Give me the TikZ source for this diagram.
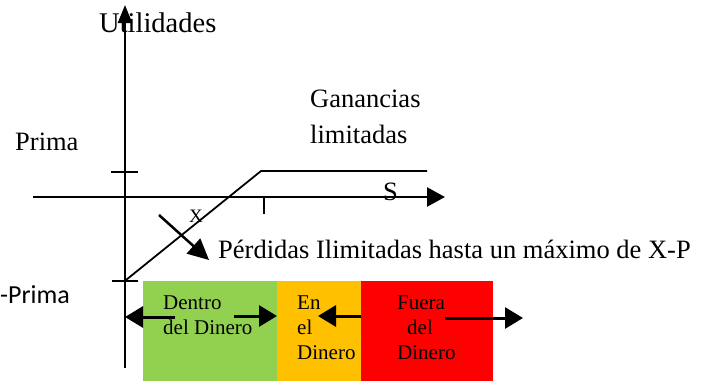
\documentclass[tikz,border=0pt]{standalone}
\usepackage{fontspec}
\setmainfont{Liberation Serif}
\newfontfamily\calibfont{Carlito}
\usetikzlibrary{arrows.meta}
\definecolor{dgreen}{HTML}{92D050}
\definecolor{dorange}{HTML}{FFC000}
\definecolor{dred}{HTML}{FF0000}
\tikzset{
  zone/.style={draw=none, inner sep=0pt, minimum height=100pt, anchor=north west},
  bigtxt/.style={inner sep=0pt, anchor=base west, font=\fontsize{26.5}{30}\selectfont},
  boxtxt/.style={inner sep=0pt, anchor=base west, font=\fontsize{21}{25}\selectfont},
  axis/.style={line width=2.5pt},
  thin/.style={line width=1.8pt},
  harrow/.style={line width=3pt, -{Triangle[length=18pt,width=21pt]}},
}
\begin{document}
\begin{tikzpicture}[x=1pt,y=-1pt]
\useasboundingbox (0,0) rectangle (705,381);
% zones
\node[zone, fill=dgreen, minimum width=135pt] (green) at (143,281) {};
\node[zone, fill=dorange, minimum width=84pt] (orange) at (277,281) {};
\node[zone, fill=dred, minimum width=132pt] (red) at (361,281) {};
% axes
\coordinate (vbot) at (125,368);
\coordinate (vtop) at (125,5);
\coordinate (hleft) at (33,197);
\coordinate (hright) at (445,197);
\draw[axis, -{Triangle[length=18pt,width=14pt]}] (vbot) -- (vtop);
\draw[axis, -{Triangle[length=18pt,width=19pt]}] (hleft) -- (hright);
% ticks
\coordinate (tp1) at (111,172); \coordinate (tp2) at (138,172);
\coordinate (tm1) at (112,281); \coordinate (tm2) at (138,281);
\coordinate (tx1) at (264,197); \coordinate (tx2) at (264,214);
\draw[thin] (tp1) -- (tp2);
\draw[thin] (tm1) -- (tm2);
\draw[thin] (tx1) -- (tx2);
% payoff
\coordinate (p0) at (126,280);
\coordinate (p1) at (261,171);
\coordinate (p2) at (427,171);
\draw[thin] (p0) -- (p1) -- (p2);
% labels
\node[bigtxt, font=\fontsize{28.5}{32}\selectfont] (util) at (99,32) {Utilidades};
\node[bigtxt] (prima) at (15,150) {Prima};
\node[bigtxt] (gan1) at (310,107) {Ganancias};
\node[bigtxt] (gan2) at (310,143) {limitadas};
\node[bigtxt] (S) at (383,200) {S};
\node[inner sep=0pt, font=\fontsize{19}{22}\selectfont] (X) at (196,216) {X};
\node[bigtxt] (perd) at (218,258) {Pérdidas Ilimitadas hasta un máximo de X-P};
\node[inner sep=0pt, anchor=base west, font=\calibfont\fontsize{26}{30}\selectfont] (mprima) at (0,303) {-Prima};
% loss arrow
\coordinate (la0) at (159,215);
\coordinate (la1) at (209,260);
\draw[line width=2.5pt, -{Triangle[length=21pt,width=20pt]}] (la0) -- (la1);
% box texts
\node[boxtxt] (d1) at (163,309) {Dentro};
\node[boxtxt] (d2) at (163,334) {del Dinero};
\node[boxtxt] (e1) at (297,309) {En};
\node[boxtxt] (e2) at (297,334) {el};
\node[boxtxt] (e3) at (297,359) {Dinero};
\node[boxtxt] (f1) at (397,309) {Fuera};
\node[boxtxt] (f2) at (407,334) {del};
\node[boxtxt] (f3) at (397,359) {Dinero};
% box arrows
\coordinate (ga0) at (175,317); \coordinate (ga1) at (125,317);
\coordinate (gb0) at (234,316); \coordinate (gb1) at (277,316);
\coordinate (oa0) at (361,316); \coordinate (oa1) at (318,316);
\coordinate (ra0) at (445,318); \coordinate (ra1) at (523,318);
\draw[harrow] (ga0) -- (ga1);
\draw[harrow] (gb0) -- (gb1);
\draw[harrow] (oa0) -- (oa1);
\draw[harrow] (ra0) -- (ra1);
\end{tikzpicture}
\end{document}
